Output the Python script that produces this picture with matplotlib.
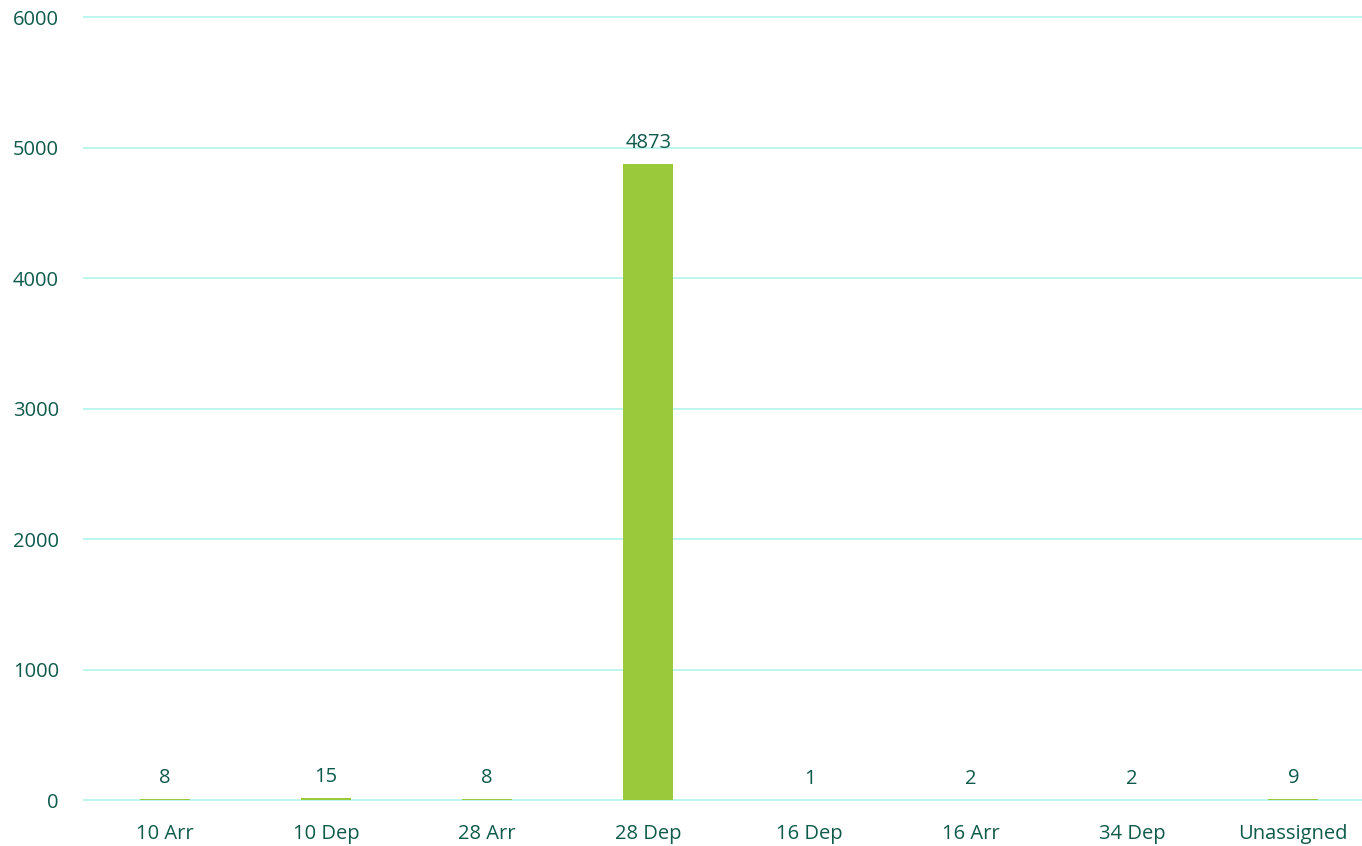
import matplotlib
matplotlib.use("Agg")
import matplotlib.pyplot as plt

categories = ["10 Arr", "10 Dep", "28 Arr", "28 Dep", "16 Dep", "16 Arr", "34 Dep", "Unassigned"]
values = [8, 15, 8, 4873, 1, 2, 2, 9]

text_color = "#0E5A4B"
bar_color = "#9ACA3C"
grid_color = "#BDF5EE"

plt.rcParams['font.family'] = ['Open Sans', 'DejaVu Sans']

fig = plt.figure(figsize=(13.62, 8.46), dpi=100)
# plot area runs a little past the right edge, as in the original
ax = fig.add_axes([84 / 1362, 1 - 800 / 846, (1374 - 84) / 1362, (800 - 17) / 846])

x = range(len(categories))
bars = ax.bar(x, values, width=0.31, color=bar_color, zorder=3)
for b, v in zip(bars, values):
    ax.annotate(str(v), (b.get_x() + b.get_width() / 2, v), xytext=(0, 8),
                textcoords="offset points", ha="center", va="bottom",
                color=text_color, fontsize=14.5)

ax.set_xlim(-0.5, len(categories) - 0.5)
ax.set_ylim(0, 6000)
ax.set_yticks(range(0, 6001, 1000))
ax.set_xticks(list(x))
ax.set_xticklabels(categories)
ax.yaxis.grid(True, color=grid_color, linewidth=1.4, zorder=0, clip_on=False)
ax.set_axisbelow(True)
for s in ax.spines.values():
    s.set_visible(False)
ax.tick_params(axis="both", length=0, colors=text_color, labelsize=14.5)
ax.tick_params(axis="y", pad=18)
ax.tick_params(axis="x", pad=17)

fig.savefig("out.png", dpi=100)
